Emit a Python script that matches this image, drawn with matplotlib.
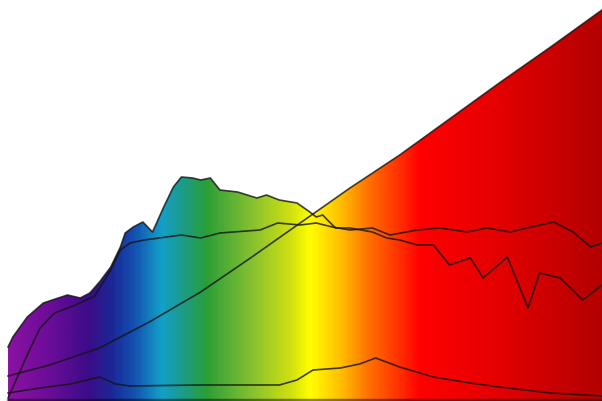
import numpy as np
import matplotlib
matplotlib.use("Agg")
import matplotlib.pyplot as plt
from matplotlib.colors import LinearSegmentedColormap

# spectral power curves (wavelength nm, relative intensity)
day_wl = [380, 383, 392, 402, 417, 425, 431, 437, 444, 450, 453, 458, 464, 470, 477, 483,
          488, 495, 500, 506, 512, 523, 535, 541, 549, 560, 568, 572, 576, 579, 584, 593,
          607, 616, 624, 635, 645, 655, 668, 676, 691, 704, 711, 724, 738, 750]
day_val = [54, 64, 84, 98, 106, 103, 108, 119, 134, 154, 168, 174, 179, 169, 194, 214,
           224, 223, 221, 223, 211, 209, 203, 206, 201, 198, 189, 184, 186, 181, 173, 173,
           169, 163, 161, 156, 156, 136, 143, 123, 144, 93, 128, 123, 101, 116]

flat_wl = [380, 387, 394, 400, 409, 422, 434, 444, 450, 456, 465, 488, 500, 512, 537, 548,
           562, 572, 582, 593, 607, 618, 635, 649, 666, 678, 693, 703, 720, 732, 743, 750]
flat_val = [3, 28, 53, 73, 88, 96, 105, 131, 151, 158, 161, 166, 163, 168, 171, 178,
            176, 178, 174, 171, 173, 166, 171, 173, 169, 173, 169, 173, 179, 169, 154, 158]

inc_wl = [380, 406, 437, 468, 500, 531, 562, 593, 624, 655, 686, 718, 750]
inc_val = [25, 36, 53, 79, 109, 143, 178, 213, 246, 282, 318, 354, 391]

low_wl = [380, 400, 419, 437, 447, 456, 500, 549, 560, 570, 587, 599, 609, 624, 645, 668,
          686, 718, 750]
low_val = [8, 13, 17, 24, 17, 15, 16, 16, 21, 31, 33, 37, 43, 34, 24, 18, 14, 8, 5]

# colour stops for the spectrum fill
stop_wl = [380, 406, 430, 445, 458, 475, 487, 503, 531, 556, 568, 587, 605, 624, 637, 686, 750]
stop_col = ["#8a12a2", "#6a0c98", "#3a0c88", "#1a2a98", "#1450b0", "#12a0c8", "#1a9c90",
            "#2a9e38", "#84c030", "#d0e010", "#ffff00", "#ffc000", "#ff7000", "#ff3000",
            "#ff0000", "#e40000", "#b40000"]

wmin, wmax = 375, 750
lo, hi = stop_wl[0], stop_wl[-1]
cmap = LinearSegmentedColormap.from_list(
    "spec", [((w - lo) / (hi - lo), c) for w, c in zip(stop_wl, stop_col)])

fig = plt.figure(figsize=(6.02, 4.01), dpi=100)
ax = fig.add_axes([0, 0, 1, 1])
ax.set_xlim(wmin, wmax)
ax.set_ylim(0, 401)
ax.axis("off")

curves = [(day_wl, day_val), (flat_wl, flat_val), (inc_wl, inc_val), (low_wl, low_val)]
grid = np.linspace(380, 750, 800)
env = np.max([np.interp(grid, w, v) for w, v in curves], axis=0)

poly = ax.fill_between(grid, 0, env, color="none", lw=0)
grad = np.linspace(0, 1, 600).reshape(1, -1)
im = ax.imshow(grad, cmap=cmap, aspect="auto", extent=[380, 750, 0, 401],
               origin="lower", zorder=1)
im.set_clip_path(poly.get_paths()[0], transform=ax.transData)

for w, v in curves:
    ax.plot(w, v, color="#141414", lw=1.2, alpha=0.8, zorder=3,
            solid_joinstyle="round")

# dark strip along the base of the fill
ax.plot([380, 750], [1.5, 1.5], color="black", lw=2.5, alpha=0.45, zorder=2)

fig.savefig("out.png", dpi=100)
